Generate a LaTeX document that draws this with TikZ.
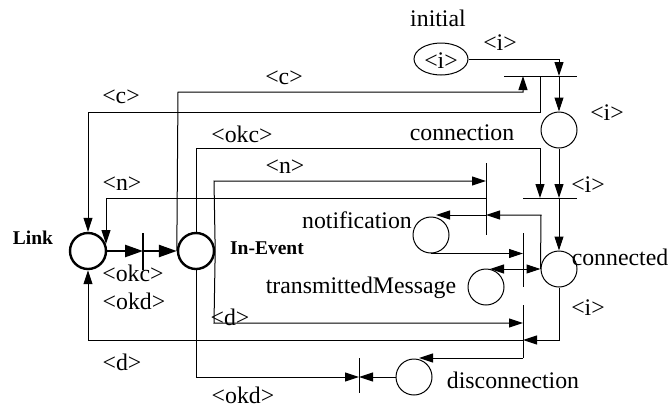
\documentclass[tikz,border=0pt]{standalone}
\usepackage{fontspec}
\setmainfont{Liberation Serif}
\usetikzlibrary{arrows.meta,calc,shapes.geometric}
\begin{document}
\begin{tikzpicture}[x=1pt,y=-1pt,
  place/.style={circle,draw,line width=1pt,minimum size=36pt,inner sep=0pt},
  tplace/.style={circle,draw,line width=2.4pt,minimum size=36pt,inner sep=0pt},
  lbl/.style={inner sep=0pt,font=\fontsize{23.8}{26}\selectfont},
  blbl/.style={inner sep=0pt,font=\fontsize{19.5}{22}\selectfont\bfseries},
  arc/.style={line width=1pt,-{Triangle[length=14pt,width=9pt]}},
  tarc/.style={line width=2.5pt,-{Triangle[length=18pt,width=12pt]}},
  ln/.style={line width=1pt},
  bar/.style={line width=1pt},
  tbar/.style={line width=2.5pt}
]
\useasboundingbox (0,0) rectangle (669,408);

% places
\node[ellipse,draw,line width=1pt,minimum width=54pt,minimum height=32pt,inner sep=0pt] (init) at (441,59) {};
\node[lbl] at (441,61) {<i>};
\node[place] (connP) at (559,130) {};
\node[place] (conn) at (559,269) {};
\node[place] (notif) at (431,235) {};
\node[place] (trans) at (486,287) {};
\node[place] (disc) at (414,377) {};
\node[tplace] (link) at (88,251) {};
\node[tplace] (ine) at (196,251) {};

% transitions (bars)
\coordinate (t1a) at (504,76); \coordinate (t1b) at (577,76);
\coordinate (t2a) at (523,198); \coordinate (t2b) at (577,198);
\coordinate (tNa) at (486,163); \coordinate (tNb) at (486,235);
\coordinate (tTa) at (523,233); \coordinate (tTb) at (523,287);
\coordinate (tDa) at (523,305); \coordinate (tDb) at (523,358);
\coordinate (tOa) at (359,358); \coordinate (tOb) at (359,393);
\coordinate (tLa) at (143,233); \coordinate (tLb) at (143,270);
\draw[bar] (t1a) -- (t1b);
\draw[bar] (t2a) -- (t2b);
\draw[bar] (tNa) -- (tNb);
\draw[bar] (tTa) -- (tTb);
\draw[bar] (tDa) -- (tDb);
\draw[bar] (tOa) -- (tOb);
\draw[tbar] (tLa) -- (tLb);

% arcs
\draw[arc] (init.east) -| (559,76);
\draw[arc] (559,76) -- (connP.north);
\draw[arc] (ine.west) -- (178,92) -- (523,92) -- (523,76);
\draw[arc] (540,76) -- (540,112) -- (88,112) -- (link.north);
\draw[arc] (ine.north) -- (196,148) -- (540,148) -- (540,198);
\draw[arc] (connP.south) -- (559,198);
\draw[arc] (559,198) -- (conn.north);
\draw[arc] (ine.east) -- (214,181) -- (486,181);
\draw[arc] (486,198) -- (106,198) -- (106,244);
\draw[arc] (conn.west) -- (541,215) -- (486,215);
\draw[arc] (486,215) -- (436,215);
\draw[arc] (notif.south) -- (notif.south -| tTa);
\draw[arc] (523,269) -- (490,269);
\draw[arc] (523,269) -- (conn.west);
\draw[arc] (ine.east) -- (214,323) -- (523,323);
\draw[arc] (conn.south) -- (559,340) -- (523,340);
\draw[arc] (523,340) -- (88,340) -- (link.south);
\draw[arc] (tDb) -- (419,358);
\draw[arc] (disc.west) -- (359,377);
\draw[arc] (ine.south) -- (196,377) -- (359,377);
\draw[tarc] (link.east) -- (143,251);
\draw[tarc] (143,251) -- (ine.west);

% labels
\node[lbl] at (438,18) {initial};
\node[lbl] at (500,43) {<i>};
\node[lbl] at (607,113) {<i>};
\node[lbl] at (462,133) {connection};
\node[lbl] at (588,185) {<i>};
\node[lbl] at (620,257) {connected};
\node[lbl] at (588,308) {<i>};
\node[lbl] at (357,220) {notification};
\node[lbl] at (361,288) {transmittedMessage};
\node[lbl] at (513,380) {disconnection};
\node[lbl] at (284,78) {<c>};
\node[lbl] at (121,97) {<c>};
\node[lbl] at (242,134) {<okc>};
\node[lbl] at (285,167) {<n>};
\node[lbl] at (122,184) {<n>};
\node[blbl] at (33,238) {Link};
\node[blbl] at (267,248) {In-Event};
\node[lbl] at (133,273) {<okc>};
\node[lbl] at (134,301) {<okd>};
\node[lbl] at (230,317) {<d>};
\node[lbl] at (122,362) {<d>};
\node[lbl] at (243,395) {<okd>};
\end{tikzpicture}
\end{document}
